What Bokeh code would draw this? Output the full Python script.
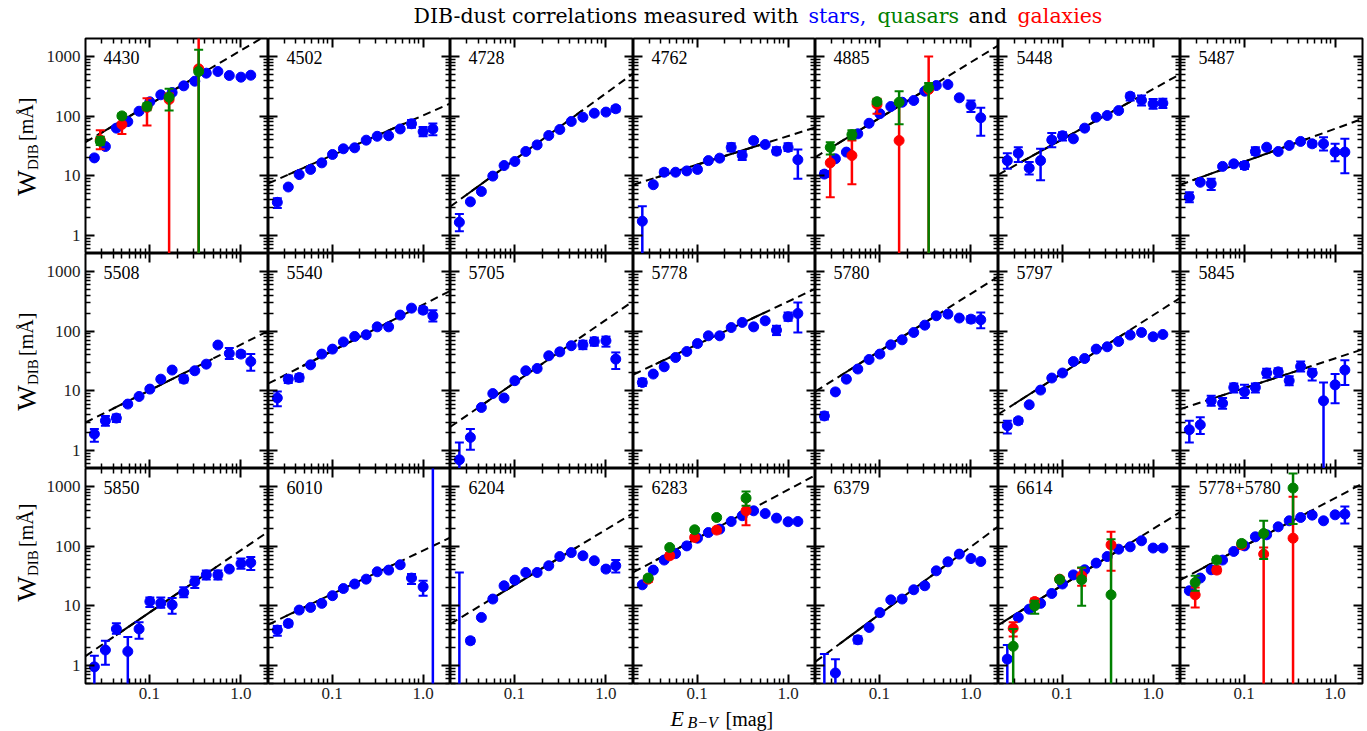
import math
from bokeh.plotting import figure
from bokeh.models import LogAxis, FixedTicker, CustomJSTickFormatter, Label, Range1d
from bokeh.layouts import gridplot, column
from bokeh.embed import file_html
from bokeh.resources import INLINE

NAN = float("nan")

# ------------------------------------------------------------------ data
PANELS = ["4430", "4502", "4728", "4762", "4885", "5448", "5487",
          "5508", "5540", "5705", "5778", "5780", "5797", "5845",
          "5850", "6010", "6204", "6283", "6379", "6614", "5778+5780"]

EBV_STARS = [0.025, 0.033, 0.0435, 0.058, 0.077, 0.101, 0.133, 0.177,
             0.237, 0.313, 0.418, 0.56, 0.746, 1.0, 1.28]
EBV_QG = [0.029, 0.050, 0.094, 0.164, 0.345]

S_4430 = [20, 31, 63, 81, 121, 174, 228, 249, 322, 385, 525, 560, 480, 450, 485]
E_4430 = {}
S_4502 = [3.6, 6.5, 10.5, 12.8, 16.5, 22.8, 28.4, 29.5, 39.6, 46, 47, 61, 74.5, 55, 61]
E_4502 = {0: (2.9, 4.2), 12: (64, 86), 13: (46, 66), 14: (48, 75)}
S_4728 = [1.67, 3.67, 5.47, 9.9, 14.9, 17.4, 25.6, 33, 47.4, 59.8, 81.5, 96, 112, 117, 133]
E_4728 = {0: (1.18, 2.3), 14: (120, 146)}
S_4762 = [1.74, 7.1, 11.5, 11.5, 12.1, 12.8, 18, 19.8, 30, 22, 39, 33.5, 25.9, 30, 18.6]
E_4762 = {0: (0.01, 3.1), 2: (10.3, 12.8), 8: (25.9, 35), 9: (18.4, 26), 10: (36, 42),
          12: (23, 30), 13: (26, 35), 14: (8.9, 27.6)}
S_4885 = [10.7, 19.3, 25, 50.6, 76, 110, 145, 171, 183, 262, 326, 339, 203, 151, 94]
E_4885 = {0: (9.6, 12), 13: (117, 183), 14: (47, 138)}
S_5448 = [18, 24, 13.5, 18, 40, 47, 41.7, 63, 96, 102.6, 124, 216, 185, 161, 165]
E_5448 = {0: (13.1, 24), 1: (17, 30), 2: (10.5, 17), 3: (8.4, 28.4), 4: (30, 52), 5: (39, 54),
          11: (183, 243), 12: (151, 222), 13: (133, 193), 14: (137, 195)}
S_5487 = [4.4, 7.8, 7.4, 14.4, 15.9, 14.9, 25.6, 30.2, 25.6, 32.3, 37.7, 34.4, 34.4, 25, 25]
E_5487 = {0: (3.6, 5.3), 2: (5.8, 8.9), 5: (13, 17), 6: (22.5, 30), 11: (31, 38),
          12: (26.6, 44.5), 13: (17.6, 34.4), 14: (11.1, 41.7)}
S_5508 = [1.89, 3.15, 3.5, 6.0, 8.05, 10.7, 15.7, 22.3, 15.7, 21.7, 28, 58.5, 42.3, 41.3, 31]
E_5508 = {0: (1.4, 2.29), 1: (2.6, 3.8), 2: (3.0, 4.0), 8: (13.8, 18), 12: (34, 52),
          13: (37, 46), 14: (21.7, 41.3)}
S_5540 = [7.6, 15.7, 16.7, 27.3, 41.3, 50, 66, 81.5, 87, 118, 118, 186, 243, 225, 181]
E_5540 = {0: (5.5, 9.75), 1: (13.5, 18), 2: (14.5, 19), 13: (200, 250), 14: (145, 225)}
S_5705 = [0.70, 1.66, 5.26, 9.0, 7.6, 14.8, 21.7, 23.7, 38.7, 45, 57, 59, 67, 69, 34]
E_5705 = {0: (0.45, 1.36), 1: (1.03, 2.29), 11: (50, 69), 12: (57, 78), 13: (55, 81), 14: (23.2, 44)}
S_5778 = [13.8, 19.1, 25.3, 36.2, 45.6, 62, 83.6, 83.6, 115, 140, 118, 149, 104, 174, 198]
E_5778 = {0: (12, 16), 12: (86, 123), 13: (149, 205), 14: (95, 302)}
S_5780 = [3.8, 9.6, 15.7, 23.2, 33.5, 41.3, 59, 71.6, 95, 126, 181, 193, 166, 159, 155]
E_5780 = {0: (3.3, 4.4), 13: (140, 180), 14: (112, 205)}
S_5797 = [2.6, 3.15, 5.85, 10.3, 16.4, 19.9, 31, 34.8, 50, 54.7, 67, 86, 95, 80.5, 88]
E_5797 = {0: (1.93, 3.15), 1: (2.8, 3.5)}
S_5845 = [2.23, 2.7, 6.8, 6.2, 11.4, 9.6, 11.4, 19.9, 20.8, 14.8, 25.6, 19.9, 6.8, 12.6, 22.3]
E_5845 = {0: (1.36, 3.15), 1: (1.9, 3.6), 2: (5.6, 8.3), 3: (5.0, 7.6), 4: (9.4, 13.3),
          5: (7.6, 12.7), 6: (9.4, 13.3), 7: (16.5, 23.5), 8: (17, 24), 9: (12.4, 17.6),
          10: (21, 31), 11: (14.9, 23.2), 12: (0.01, 13.8), 13: (6.2, 19.1), 14: (12.5, 32.7)}
S_5850 = [0.95, 1.82, 4.1, 1.72, 4.1, 11.8, 11.1, 10.4, 16.7, 25.3, 33, 33, 41.3, 51, 53]
E_5850 = {0: (0.01, 1.46), 1: (1.03, 2.6), 2: (3.4, 5.1), 3: (0.01, 3.0), 4: (2.8, 5.3),
          5: (9.6, 13.8), 6: (9.3, 13.8), 7: (7.4, 13.5), 8: (13.9, 20.4), 9: (19.9, 30.7),
          10: (27.5, 39), 11: (27.5, 39), 13: (42, 62), 14: (40, 66)}
S_6010 = [3.93, 5.07, 8.5, 9.4, 11, 14.8, 19.5, 23.2, 28, 37.2, 39.7, 48.8, 29.2, 20.8, 0.2]
E_6010 = {0: (3.15, 4.6), 1: (4.5, 5.6), 12: (23.2, 34), 13: (14.8, 26.3), 14: (0.01, 5000)}
S_6204 = [0.3, 2.6, 6.4, 13, 21.7, 27, 36.2, 36.2, 47, 67, 78, 69, 57, 41.3, 47]
E_6204 = {0: (0.01, 36.2), 1: (2.35, 2.9), 13: (38, 45), 14: (36.2, 58.5)}
S_6283 = [22.5, 39.7, 58.5, 75, 101, 136, 169, 193, 259, 323, 391, 352, 295, 256, 259]
E_6283 = {}
S_6379 = [0.3, 0.75, NAN, 2.7, 4.35, 7.7, 12.6, 13, 18.6, 21.7, 38.6, 54.7, 73.6, 62, 55.3]
E_6379 = {0: (0.01, 1.56), 1: (0.01, 1.28), 3: (2.35, 3.1)}
S_6614 = [1.28, 6.4, 8.8, 11, 16.1, 23.2, 33, 40.2, 52, 67, 89, 97.5, 123, 93, 93]
E_6614 = {0: (0.01, 2.2)}
S_5778_5780 = [17.9, 29.2, 40.2, 58.5, 81.5, 101, 143.5, 155, 211, 266, 302, 331, 266, 335, 344]
E_5778_5780 = {14: (240, 461)}

# galaxies (G) and quasars (Q): value, lower and upper end of error bar
G_4430 = [40, 72.6, 140, 190, 621];  GL_4430 = [28, 50, 70, 0.01, 0.01];  GH_4430 = [58, 102, 200, 240, 5000]
Q_4430 = [38, 101, 146, 208, 560];   QL_4430 = [33, 93, 125, 124, 0.01];  QH_4430 = [45, 110, 165, 287, 1295]
G_4885 = [16.5, 21.9, 157, 39, 280]; GL_4885 = [4.4, 7.2, 110, 0.01, 0.01]; GH_4885 = [30, 39, 195, 160, 1000]
Q_4885 = [30, 49, 175, 171, 300];    QL_4885 = [22.8, 41, 160, 73, 0.01];  QH_4885 = [36.6, 58, 190, 262, 360]
G_6283 = [28, 69, 140, 186, 391];    GL_6283 = [25, 63, 128, 170, 225];    GH_6283 = [31, 76, 153, 203, 575]
Q_6283 = [29.2, 95, 188, 302, 638];  QL_6283 = [27, 88, 175, 280, 474];    QH_6283 = [32, 102, 202, 325, 824]
G_6614 = [4.2, 11.8, 28, 31.9, 105]; GL_6614 = [3.07, 10.5, 26, 21.7, 38.6]; GH_6614 = [5.3, 13.3, 30, 43, 174]
Q_6614 = [2.1, 10, 27.7, 27.4, 15.3]; QL_6614 = [0.01, 7.4, 25, 10, 0.01]; QH_6614 = [4.1, 12.2, 30.5, 44, 131]
G_5778_5780 = [15.3, 39.7, 105, 73.6, 136]; GL_5778_5780 = [9.4, 35, 95, 0.01, 0.01]; GH_5778_5780 = [20.3, 45, 115, 95, 671]
Q_5778_5780 = [24.6, 58.5, 111, 163, 940]; QL_5778_5780 = [17.9, 52, 100, 61, 234]; QH_5778_5780 = [32, 65, 123, 266, 1650]

# power-law fits: W at E=0.02, slope, range of the solid (fitted) part
FIT_W002 = [36.6, 7.5, 3.07, 7.1, 20.6, 10.5, 7.1, 2.95, 13.3, 2.5, 18.8, 9.8, 4.08, 4.95,
            1.44, 4.87, 5.0, 36.6, 1.16, 4.8, 27.2]
FIT_SLOPE = [0.905, 0.67, 1.116, 0.48, 0.936, 0.843, 0.552, 0.768, 0.777, 1.054, 0.719, 0.963,
             0.975, 0.50, 1.044, 0.729, 0.929, 0.813, 1.134, 0.946, 0.807]
FIT_LO = [0.027, 0.033, 0.03, 0.035, 0.03, 0.035, 0.027, 0.04, 0.047, 0.046, 0.035, 0.037,
          0.03, 0.043, 0.043, 0.031, 0.059, 0.035, 0.037, 0.0226, 0.032]
FIT_HI = [0.45, 0.62, 0.55, 0.59, 0.32, 0.59, 0.49, 0.49, 0.7, 0.48, 0.55, 0.46, 0.48, 0.49,
          0.54, 0.57, 0.48, 0.32, 0.5, 0.4, 0.55]

X_MAJOR = [0.1, 1.0]
X_MINOR = [0.03, 0.04, 0.05, 0.06, 0.07, 0.08, 0.09, 0.2, 0.3, 0.4, 0.5, 0.6, 0.7, 0.8, 0.9]
Y_MAJOR = [1, 10, 100, 1000]
Y_MINOR = [0.5, 0.6, 0.7, 0.8, 0.9, 2, 3, 4, 5, 6, 7, 8, 9, 20, 30, 40, 50, 60, 70, 80, 90,
           200, 300, 400, 500, 600, 700, 800, 900]

TITLE_PARTS = ["DIB-dust correlations measured with", "stars,", "quasars", "and", "galaxies"]
TITLE_COLORS = ["black", "#0000ff", "#008000", "black", "#ff0000"]

STARS = {"4430": (S_4430, E_4430), "4502": (S_4502, E_4502), "4728": (S_4728, E_4728),
         "4762": (S_4762, E_4762), "4885": (S_4885, E_4885), "5448": (S_5448, E_5448),
         "5487": (S_5487, E_5487), "5508": (S_5508, E_5508), "5540": (S_5540, E_5540),
         "5705": (S_5705, E_5705), "5778": (S_5778, E_5778), "5780": (S_5780, E_5780),
         "5797": (S_5797, E_5797), "5845": (S_5845, E_5845), "5850": (S_5850, E_5850),
         "6010": (S_6010, E_6010), "6204": (S_6204, E_6204), "6283": (S_6283, E_6283),
         "6379": (S_6379, E_6379), "6614": (S_6614, E_6614),
         "5778+5780": (S_5778_5780, E_5778_5780)}
GALAXIES = {"4430": (G_4430, GL_4430, GH_4430), "4885": (G_4885, GL_4885, GH_4885),
            "6283": (G_6283, GL_6283, GH_6283), "6614": (G_6614, GL_6614, GH_6614),
            "5778+5780": (G_5778_5780, GL_5778_5780, GH_5778_5780)}
QUASARS = {"4430": (Q_4430, QL_4430, QH_4430), "4885": (Q_4885, QL_4885, QH_4885),
           "6283": (Q_6283, QL_6283, QH_6283), "6614": (Q_6614, QL_6614, QH_6614),
           "5778+5780": (Q_5778_5780, QL_5778_5780, QH_5778_5780)}

# ------------------------------------------------------------------ style / layout
FONT = "Liberation Serif"
TFONT = "DejaVu Serif"
BLUE, GREEN, RED = "#0000ff", "#008000", "#ff0000"
FW = [183, 182, 183, 182, 183, 182, 182]
FH = 215
YLAB_W = 43
LEFT_B, RIGHT_B, TOP_B, BOTTOM_B = 40, 2, 1, 24
TITLE_H, XLAB_H = 37, 24
TOTAL_W = YLAB_W + LEFT_B + sum(FW) + RIGHT_B
ROW_H = [FH + TOP_B, FH, FH + BOTTOM_B]


def add_side(p, side, major, minor, show, code):
    if show:
        ax = LogAxis(ticker=FixedTicker(ticks=major, minor_ticks=minor),
                     formatter=CustomJSTickFormatter(code=code))
        ax.axis_line_color = None
        ax.axis_label = None
        ax.major_tick_in, ax.major_tick_out = 9, 0
        ax.minor_tick_in, ax.minor_tick_out = 5, 0
        ax.major_tick_line_color = "black"
        ax.minor_tick_line_color = "black"
        ax.major_tick_line_width = 2
        ax.minor_tick_line_width = 1.5
        ax.major_label_text_font = FONT
        ax.major_label_text_font_size = "17px"
        ax.major_label_text_color = "#222222"
        ax.major_label_standoff = 4 if side == "below" else 5
        p.add_layout(ax, side)
    else:
        # tick-only axes (no labels): one for the long, one for the short ticks
        for ticks, ln, lw in ((major, 9, 2), (minor, 5, 1.5)):
            ax = LogAxis(ticker=FixedTicker(ticks=[], minor_ticks=ticks))
            ax.axis_line_color = None
            ax.axis_label = None
            ax.major_tick_in, ax.major_tick_out = 0, 0
            ax.minor_tick_in, ax.minor_tick_out = ln, 0
            ax.minor_tick_line_color = "black"
            ax.minor_tick_line_width = lw
            ax.major_label_standoff = 0
            p.add_layout(ax, side)


def errorbars(p, xs, lo, hi, color):
    p.segment(x0=xs, y0=lo, x1=xs, y1=hi, line_color=color, line_width=2.5)
    p.scatter(x=xs, y=lo, marker="dash", size=9, line_color=color, line_width=2)
    p.scatter(x=xs, y=hi, marker="dash", size=9, line_color=color, line_width=2)


def text_fig(w, h):
    f = figure(width=w, height=h, toolbar_location=None, output_backend="svg",
               x_range=Range1d(0, 1), y_range=Range1d(0, 1), x_axis_location=None,
               y_axis_location=None, title_location=None, min_border_left=0,
               min_border_right=0, min_border_top=0, min_border_bottom=0)
    f.grid.visible = False
    f.outline_line_color = None
    return f


def label(txt, x, y, font, size, color="black", style="normal", angle=0.0):
    return Label(x=x, y=y, x_units="screen", y_units="screen", text=txt, angle=angle,
                 text_font=font, text_font_size=size, text_font_style=style,
                 text_color=color, text_baseline="middle", text_align="left")


def make_panel(k, name):
    r, c = divmod(k, 7)
    p = figure(frame_width=FW[c], frame_height=FH, x_axis_type="log", y_axis_type="log",
               x_range=Range1d(0.02, 2.0), y_range=Range1d(0.5, 2000),
               x_axis_location=None, y_axis_location=None,
               toolbar_location=None, output_backend="svg", title_location=None,
               min_border_left=LEFT_B if c == 0 else 0,
               min_border_right=RIGHT_B if c == 6 else 0,
               min_border_top=TOP_B if r == 0 else 0,
               min_border_bottom=BOTTOM_B if r == 2 else 0)
    xcode = "return tick.toFixed(1);"
    ycode = "return tick.toFixed(0);"
    add_side(p, "below", X_MAJOR, X_MINOR, r == 2, xcode)
    add_side(p, "above", X_MAJOR, X_MINOR, False, xcode)
    add_side(p, "left", Y_MAJOR, Y_MINOR, c == 0, ycode)
    add_side(p, "right", Y_MAJOR, Y_MINOR, False, ycode)
    p.xgrid.visible = False
    p.ygrid.visible = False
    p.outline_line_color = "black"
    p.outline_line_width = 2
    p.background_fill_color = "white"
    p.border_fill_color = "white"

    # fit line: dashed full extent, solid over the fitted range
    w0, b = FIT_W002[k], FIT_SLOPE[k]
    xd = [0.02, 2.0]
    p.line(xd, [w0 * (x / 0.02) ** b for x in xd], line_color="black", line_width=2,
           line_dash="8 5")
    xs = [FIT_LO[k], FIT_HI[k]]
    p.line(xs, [w0 * (x / 0.02) ** b for x in xs], line_color="black", line_width=2)

    # stars
    vals, errs = STARS[name]
    idx = sorted(errs.keys())
    if idx:
        errorbars(p, [EBV_STARS[i] for i in idx], [errs[i][0] for i in idx],
                  [errs[i][1] for i in idx], BLUE)
    px = [x for x, v in zip(EBV_STARS, vals) if not math.isnan(v)]
    py = [v for v in vals if not math.isnan(v)]
    p.scatter(px, py, size=10, fill_color=BLUE, line_color=BLUE)

    # galaxies then quasars
    for dct, col in ((GALAXIES, RED), (QUASARS, GREEN)):
        if name in dct:
            v, lo, hi = dct[name]
            errorbars(p, EBV_QG, lo, hi, col)
            p.scatter(EBV_QG, v, size=10, fill_color=col, line_color=col)

    p.add_layout(label(name, 18, FH - 18.5, FONT, "18px"))
    return p


def ylabel_fig(r):
    f = text_fig(YLAB_W, ROW_H[r])
    base = BOTTOM_B if r == 2 else 0
    for txt, xx, yy, fs in (("W", 26, 57.7, "27px"), ("DIB", 32, 83.5, "15px"),
                            ("[mÅ]", 25, 112.5, "20px")):
        f.add_layout(label(txt, xx, base + yy, FONT, fs, angle=math.pi / 2))
    return f


panels = [make_panel(k, n) for k, n in enumerate(PANELS)]
rows = [[ylabel_fig(i)] + panels[i * 7:(i + 1) * 7] for i in range(3)]
grid = gridplot(rows, toolbar_location=None)

# title
tf = text_fig(TOTAL_W, TITLE_H)
for txt, col, xx in zip(TITLE_PARTS, TITLE_COLORS, [413, 808, 877, 968, 1017]):
    tf.add_layout(label(txt, xx, 21.4, TFONT, "20.5px", color=col))

# x-axis label
xf = text_fig(TOTAL_W, XLAB_H)
xf.add_layout(label("E", 670, 13.4, FONT, "22px", style="italic"))
xf.add_layout(label("B\u2212V", 687, 8.9, FONT, "16px", style="italic"))
xf.add_layout(label("[mag]", 725, 12.75, FONT, "20px"))

layout = column(tf, grid, xf)
open("out.html", "w").write(file_html(layout, INLINE))
